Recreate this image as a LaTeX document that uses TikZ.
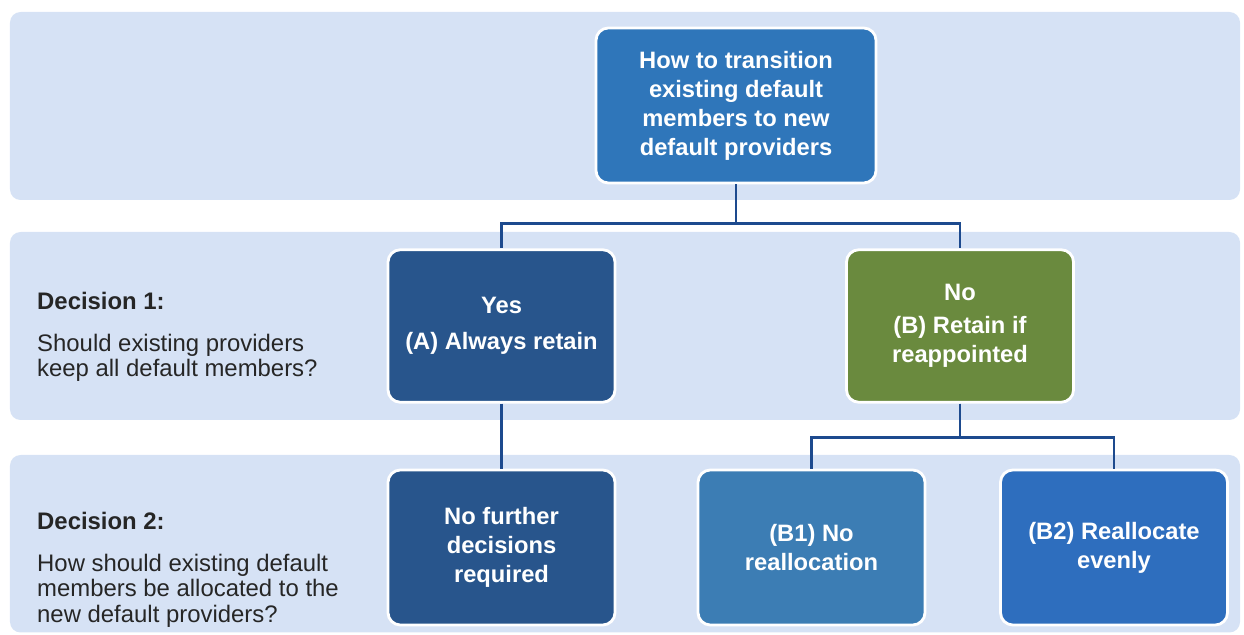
\documentclass[tikz,border=0pt]{standalone}
\usepackage{fontspec}
\setmainfont{Liberation Sans}
\usepackage{tikz}
\usetikzlibrary{positioning}
\definecolor{bandblue}{HTML}{D6E2F5}
\definecolor{linkblue}{HTML}{1D4A8E}
\definecolor{topblue}{HTML}{2F76BA}
\definecolor{deepblue}{HTML}{28558C}
\definecolor{optgreen}{HTML}{6A8A3E}
\definecolor{midblue}{HTML}{3C7DB4}
\definecolor{brightblue}{HTML}{2E6EBE}
\tikzset{
  band/.style={fill=bandblue, draw=none, rounded corners=6pt},
  choice/.style={draw=white, line width=1.6pt, rounded corners=7pt, align=center,
    text=white, font=\bfseries\fontsize{13.5}{16.5}\selectfont,
    minimum width=4.54cm, minimum height=3.05cm, inner sep=2pt},
  link/.style={draw=linkblue, line width=1.6pt},
  question/.style={anchor=west, align=left, font=\fontsize{13.6}{14.6}\selectfont, text=black!85}
}
\begin{document}
\begin{tikzpicture}
\useasboundingbox (0,0) rectangle (24.88,12.7);
% background bands
\fill[band] (0.2,8.7) rectangle (24.8,12.46);
\fill[band] (0.2,4.3) rectangle (24.8,8.06);
\fill[band] (0.2,0.05) rectangle (24.8,3.6);

% boxes
\node[choice, fill=topblue, minimum width=5.6cm, minimum height=3.1cm] (root) at (14.72,10.59)
  {How to transition\\existing default\\members to new\\default providers};
\node[choice, fill=deepblue] (yes) at (10.03,6.18) {Yes\\[4pt](A) Always retain};
\node[choice, fill=optgreen] (no) at (19.2,6.18) {No\\[2pt](B) Retain if\\reappointed};
\node[choice, fill=deepblue, minimum height=3.1cm] (none) at (10.03,1.75) {No further\\decisions\\required};
\node[choice, fill=midblue, minimum height=3.1cm] (bone) at (16.23,1.75) {(B1) No\\reallocation};
\node[choice, fill=brightblue, minimum height=3.1cm] (btwo) at (22.28,1.75) {(B2) Reallocate\\evenly};

% questions
\node[question] (dec1) at (0.62,5.96) {\textbf{Decision 1:}\\[9pt]Should existing providers\\keep all default members?};
\node[question] (dec2) at (0.62,1.3) {\textbf{Decision 2:}\\[9pt]How should existing default\\members be allocated to the\\new default providers?};

% connectors
\draw[link] (root.south) -- ++(0,-0.78) -| (yes.north);
\draw[link] (root.south) -- ++(0,-0.78) -| (no.north);
\draw[link] (yes.south) -- (none.north);
\draw[link] (no.south) -- ++(0,-0.68) -| (bone.north);
\draw[link] (no.south) -- ++(0,-0.68) -| (btwo.north);
\end{tikzpicture}
\end{document}
